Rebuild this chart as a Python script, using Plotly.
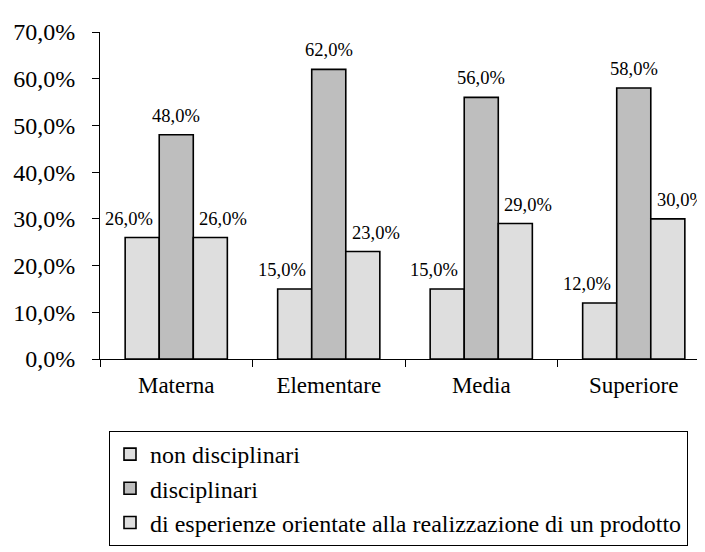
import plotly.graph_objects as go

categories = ["Materna", "Elementare", "Media", "Superiore"]
series_names = ["non disciplinari", "disciplinari",
                "di esperienze orientate alla realizzazione di un prodotto"]
non_disciplinari = [26, 15, 15, 12]
disciplinari = [48, 62, 56, 58]
esperienze = [26, 23, 29, 30]
y_ticks = [0, 10, 20, 30, 40, 50, 60, 70]
y_tick_labels = [f"{t:.1f}%".replace(".", ",") for t in y_ticks]

series_values = [non_disciplinari, disciplinari, esperienze]
colors = ["#DEDEDE", "#BEBEBE", "#DEDEDE"]
label_xshift = [-47, 0, 47]

FONT = "Times New Roman, Liberation Serif, serif"

fig = go.Figure()
for i, (name, vals) in enumerate(zip(series_names, series_values)):
    fig.add_trace(go.Bar(
        x=categories, y=vals, name=name, legendgroup=f"g{i}",
        marker=dict(color=colors[i], line=dict(color="black", width=1.6)),
    ))

annotations = []
for i, vals in enumerate(series_values):
    for c, v in zip(categories, vals):
        annotations.append(dict(
            x=c, y=v, xref="x", yref="y", text=f"{v:.1f}%".replace(".", ","),
            showarrow=False, yanchor="bottom", xanchor="center",
            xshift=label_xshift[i], yshift=7,
            font=dict(family=FONT, size=18.5, color="black"),
        ))

fig.update_layout(
    width=705, height=552,
    margin=dict(l=92, r=3, t=24, b=201, autoexpand=False),
    paper_bgcolor="white", plot_bgcolor="white",
    barmode="group", bargap=0.33, bargroupgap=0,
    font=dict(family=FONT, size=23, color="black"),
    showlegend=True,
    legend=dict(
        x=(101 - 92) / 610, y=(351 - 423) / 327, xanchor="left", yanchor="top",
        bordercolor="black", borderwidth=1, bgcolor="white",
        font=dict(family=FONT, size=24, color="black"),
        tracegroupgap=14, traceorder="normal",
    ),
    annotations=annotations,
    xaxis=dict(
        showline=True, linecolor="black", linewidth=1,
        ticks="outside", tickson="boundaries", ticklen=7, tickcolor="black",
        showgrid=False, automargin=False, ticklabelstandoff=5,
        tickfont=dict(family=FONT, size=23, color="black"),
    ),
    yaxis=dict(
        range=[0, 70], tickvals=y_ticks, ticktext=y_tick_labels,
        showline=True, linecolor="black", linewidth=1,
        ticks="outside", ticklen=7, tickcolor="black",
        showgrid=False, zeroline=False, automargin=False, ticklabelstandoff=12,
        tickfont=dict(family=FONT, size=24, color="black"),
    ),
)

fig.write_html("out.html")
